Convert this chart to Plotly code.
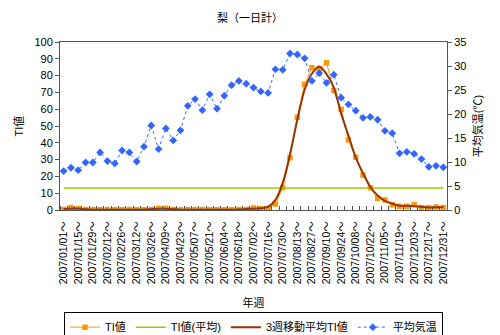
import plotly.graph_objects as go

weeks = ["2007/01/01～", "2007/01/08～", "2007/01/15～", "2007/01/22～", "2007/01/29～",
         "2007/02/05～", "2007/02/12～", "2007/02/19～", "2007/02/26～", "2007/03/05～",
         "2007/03/12～", "2007/03/19～", "2007/03/26～", "2007/04/02～", "2007/04/09～",
         "2007/04/16～", "2007/04/23～", "2007/04/30～", "2007/05/07～", "2007/05/14～",
         "2007/05/21～", "2007/05/28～", "2007/06/04～", "2007/06/11～", "2007/06/18～",
         "2007/06/25～", "2007/07/02～", "2007/07/09～", "2007/07/16～", "2007/07/23～",
         "2007/07/30～", "2007/08/06～", "2007/08/13～", "2007/08/20～", "2007/08/27～",
         "2007/09/03～", "2007/09/10～", "2007/09/17～", "2007/09/24～", "2007/10/01～",
         "2007/10/08～", "2007/10/15～", "2007/10/22～", "2007/10/29～", "2007/11/05～",
         "2007/11/12～", "2007/11/19～", "2007/11/26～", "2007/12/03～", "2007/12/10～",
         "2007/12/17～", "2007/12/24～", "2007/12/31～"]

ti = [0.3, 1.5, 0.8, 0.3, 0.2, 0.2, 0.3, 0.2, 0.2, 0.3, 0.2, 0.2, 0.3, 1.0, 1.0,
      0.3, 0.2, 0.2, 0.2, 0.3, 0.2, 0.2, 0.2, 0.2, 0.3, 0.3, 1.2, 0.8, 1.0, 3.6,
      13.3, 31.1, 55.2, 74.8, 84.7, 83.9, 87.7, 71.0, 59.9, 41.7, 31.4, 20.8, 13.2,
      7.0, 6.0, 3.2, 2.2, 2.2, 3.2, 1.4, 1.4, 1.8, 1.5]

ti_avg_value = [13.1]

ti_ma3 = [0.6, 0.9, 0.9, 0.4, 0.2, 0.2, 0.2, 0.2, 0.2, 0.2, 0.2, 0.2, 0.5, 0.8, 0.8,
          0.5, 0.2, 0.2, 0.2, 0.2, 0.2, 0.2, 0.2, 0.2, 0.3, 0.6, 0.8, 1.0, 1.8, 6.0,
          16.0, 33.2, 53.7, 71.6, 81.1, 85.4, 80.9, 72.9, 57.5, 44.3, 31.3, 21.8, 13.7,
          8.7, 5.4, 3.8, 2.5, 2.5, 2.3, 2.0, 1.5, 1.6, 1.7]

temp = [8.1, 8.8, 8.3, 9.9, 9.9, 12.0, 10.2, 9.7, 12.4, 12.0, 10.1, 13.2, 17.6, 12.7,
        17.0, 14.5, 16.6, 21.7, 23.1, 20.8, 24.1, 21.1, 23.8, 26.0, 26.9, 26.3, 25.5,
        24.7, 24.4, 29.3, 29.2, 32.6, 32.4, 31.6, 26.9, 28.5, 26.5, 28.2, 23.4, 22.0,
        20.7, 19.2, 19.4, 18.8, 16.5, 16.0, 11.8, 12.1, 11.7, 10.6, 9.0, 9.2, 8.9]

x = list(range(len(weeks)))
FONT = "Liberation Sans, Arial, Noto Sans CJK JP, sans-serif"
AX = "#555555"

fig = go.Figure()
fig.add_trace(go.Scatter(x=x, y=ti, name="TI値", mode="lines+markers",
                         line=dict(color="#FF9900", width=1),
                         marker=dict(symbol="square", size=5.5, color="#FF9900")))
fig.add_trace(go.Scatter(x=x, y=ti_avg_value * len(x), name="TI値(平均)", mode="lines",
                         line=dict(color="#99CC00", width=1.5)))
fig.add_trace(go.Scatter(x=x, y=ti_ma3, name="3週移動平均TI値", mode="lines",
                         line=dict(color="#993300", width=2, shape="spline", smoothing=0.8)))
fig.add_trace(go.Scatter(x=x, y=temp, name="平均気温", mode="lines+markers", yaxis="y2",
                         line=dict(color="#3366FF", width=1, dash="dot"),
                         marker=dict(symbol="diamond", size=6, color="#3366FF")))

fig.update_layout(
    width=500, height=335,
    margin=dict(l=60, r=53, t=42, b=125, autoexpand=False),
    paper_bgcolor="white", plot_bgcolor="white",
    font=dict(family=FONT, size=11, color="black"),
    title=dict(text="梨（一日計）", x=0.5, xanchor="center", y=0.945, yanchor="middle",
               font=dict(size=11)),
    showlegend=True,
    legend=dict(orientation="h", x=0.5, xanchor="center", y=-0.605, yanchor="top",
                bordercolor="black", borderwidth=1,
                font=dict(size=11), itemwidth=30, tracegroupgap=0),
    xaxis=dict(range=[-0.5, 52.5], tickmode="array", tickvals=x[::2],
               ticktext=weeks[::2], tickangle=-90, ticks="", showgrid=False,
               zeroline=False, showline=True, linecolor=AX, linewidth=1, mirror=True,
               tickfont=dict(size=10.5), automargin=False, ticklabelstandoff=6,
               minor=dict(tickmode="linear", tick0=-0.5, dtick=1, ticks="inside",
                          ticklen=4, tickcolor=AX, showgrid=False),
               title=dict(text="年週", standoff=16, font=dict(size=11))),
    yaxis=dict(range=[0, 100], dtick=10, ticks="outside", ticklen=4, tickcolor=AX,
               showgrid=False, zeroline=False, showline=True, linecolor=AX,
               linewidth=1, mirror=True, automargin=False,
               title=dict(text="TI値", standoff=8, font=dict(size=11))),
    yaxis2=dict(range=[0, 35], dtick=5, overlaying="y", side="right",
                ticks="outside", ticklen=4, tickcolor=AX, showgrid=False,
                zeroline=False, showline=True, linecolor=AX, linewidth=1,
                automargin=False,
                title=dict(text="平均気温(℃)", standoff=8, font=dict(size=11))),
)

fig.write_html("out.html")
